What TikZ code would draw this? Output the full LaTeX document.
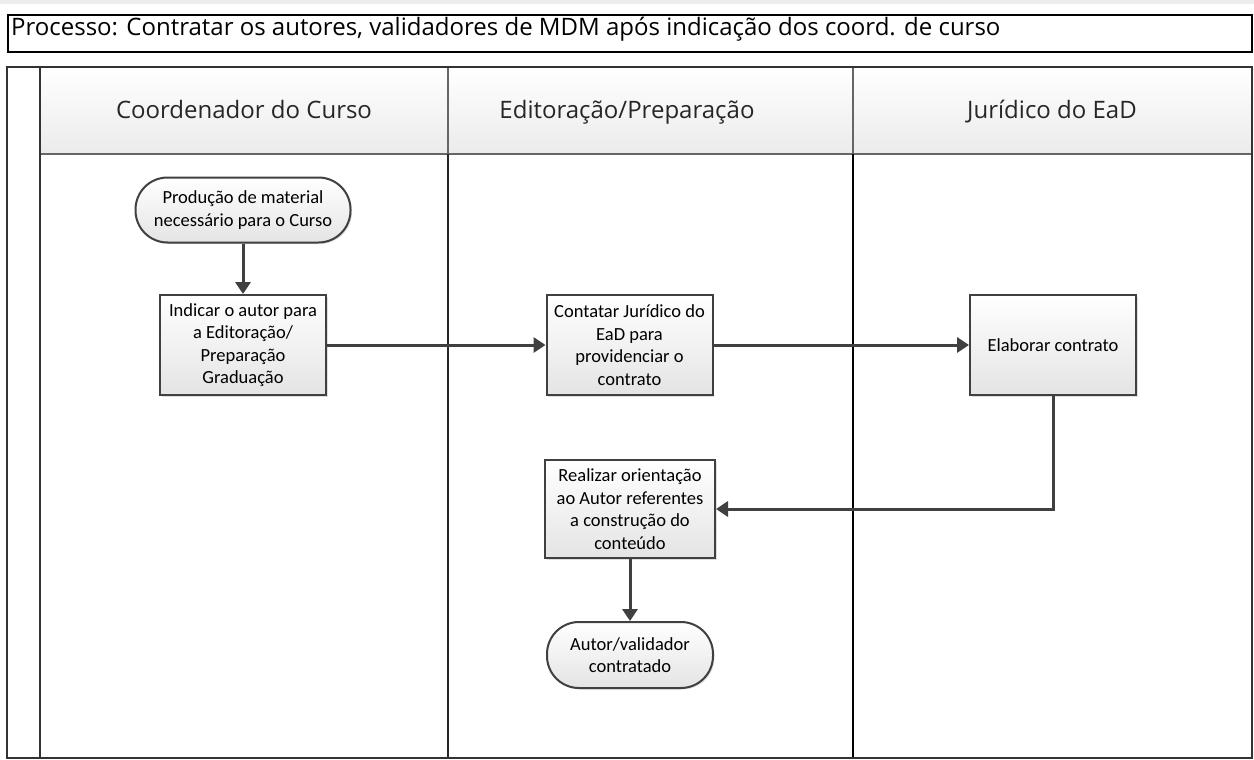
\documentclass[tikz,border=0pt]{standalone}
\usepackage{fontspec}
\setmainfont{Open Sans}
\newfontfamily\calib{Carlito}
\usetikzlibrary{arrows.meta,shadows}
\definecolor{lineg}{HTML}{404040}
\definecolor{boxbot}{HTML}{E4E4E4}
\definecolor{hdrbot}{HTML}{EBEBEB}
\tikzset{
  flowbox/.style={draw=lineg, line width=2pt, top color=white, bottom color=boxbot,
    minimum width=166pt, minimum height=100pt, align=center, inner sep=1pt,
    font=\calib\fontsize{18.5}{22.5}\selectfont, text=black,
    drop shadow={shadow xshift=1.5pt, shadow yshift=-1.5pt, opacity=0.25}},
  flowterm/.style={flowbox, rounded corners=32pt, minimum height=65pt},
  flowarrow/.style={draw=lineg, line width=3pt, -{Triangle[length=12pt,width=15pt]}},
  hdrtext/.style={font=\fontsize{24}{28}\selectfont, text=black!85, anchor=base, inner sep=0pt},
}
\begin{document}
\begin{tikzpicture}[x=1pt,y=-1pt]
\useasboundingbox (0,0) rectangle (1254,760);
\fill[white] (0,0) rectangle (1254,760);
\fill[black!7] (0,0) rectangle (1254,4);
% title
\draw[line width=2.8pt] (8,15) rectangle (1252,52);
\node[anchor=base west, inner sep=0pt, font=\fontsize{24}{28}\selectfont] (title) at (11,36)
  {Processo: Contratar os autores, validadores de MDM após indicação dos coord. de curso};
% pool header
\shade[top color=white, bottom color=hdrbot] (40,67) rectangle (1252,154);
\draw[black!60, line width=2pt] (40,154) -- (1252,154);
\draw[black!60, line width=2pt] (40,67) -- (1252,67);
\draw[black!60, line width=2pt] (448,67) -- (448,154);
\draw[black!60, line width=2pt] (853,67) -- (853,154);
\draw[black!85, line width=2pt] (448,154) -- (448,758);
\draw[black, line width=2.4pt] (853,154) -- (853,758);
\draw[black!80, line width=2pt] (7,67) rectangle (1252,758);
\draw[black!80, line width=2pt] (40,67) -- (40,758);
\node[hdrtext] (h1) at (244,118) {Coordenador do Curso};
\node[hdrtext] (h2) at (627,118) {Editoração/Preparação};
\node[hdrtext] (h3) at (1052,118) {Jurídico do EaD};
% nodes
\node[flowterm, minimum width=215pt] (start) at (243,210) {Produção de material\\necessário para o Curso};
\node[flowbox] (indicar) at (243,345) {Indicar o autor para\\a Editoração/\\Preparação\\Graduação};
\node[flowbox] (contatar) at (629.5,345) {Contatar Jurídico do\\EaD para\\providenciar o\\contrato};
\node[flowbox] (elaborar) at (1053,345) {Elaborar contrato};
\node[flowbox, minimum width=170pt, minimum height=98pt] (realizar) at (630,509) {Realizar orientação\\ao Autor referentes\\a construção do\\conteúdo};
\node[flowterm, minimum width=166pt, minimum height=66pt] (fim) at (630,655) {Autor/validador\\contratado};
% connectors
\draw[flowarrow] (start) -- (indicar);
\draw[flowarrow] (indicar) -- (contatar);
\draw[flowarrow] (contatar) -- (elaborar);
\draw[flowarrow] (elaborar.south) |- (realizar.east);
\draw[flowarrow] (realizar) -- (fim);
\end{tikzpicture}
\end{document}
